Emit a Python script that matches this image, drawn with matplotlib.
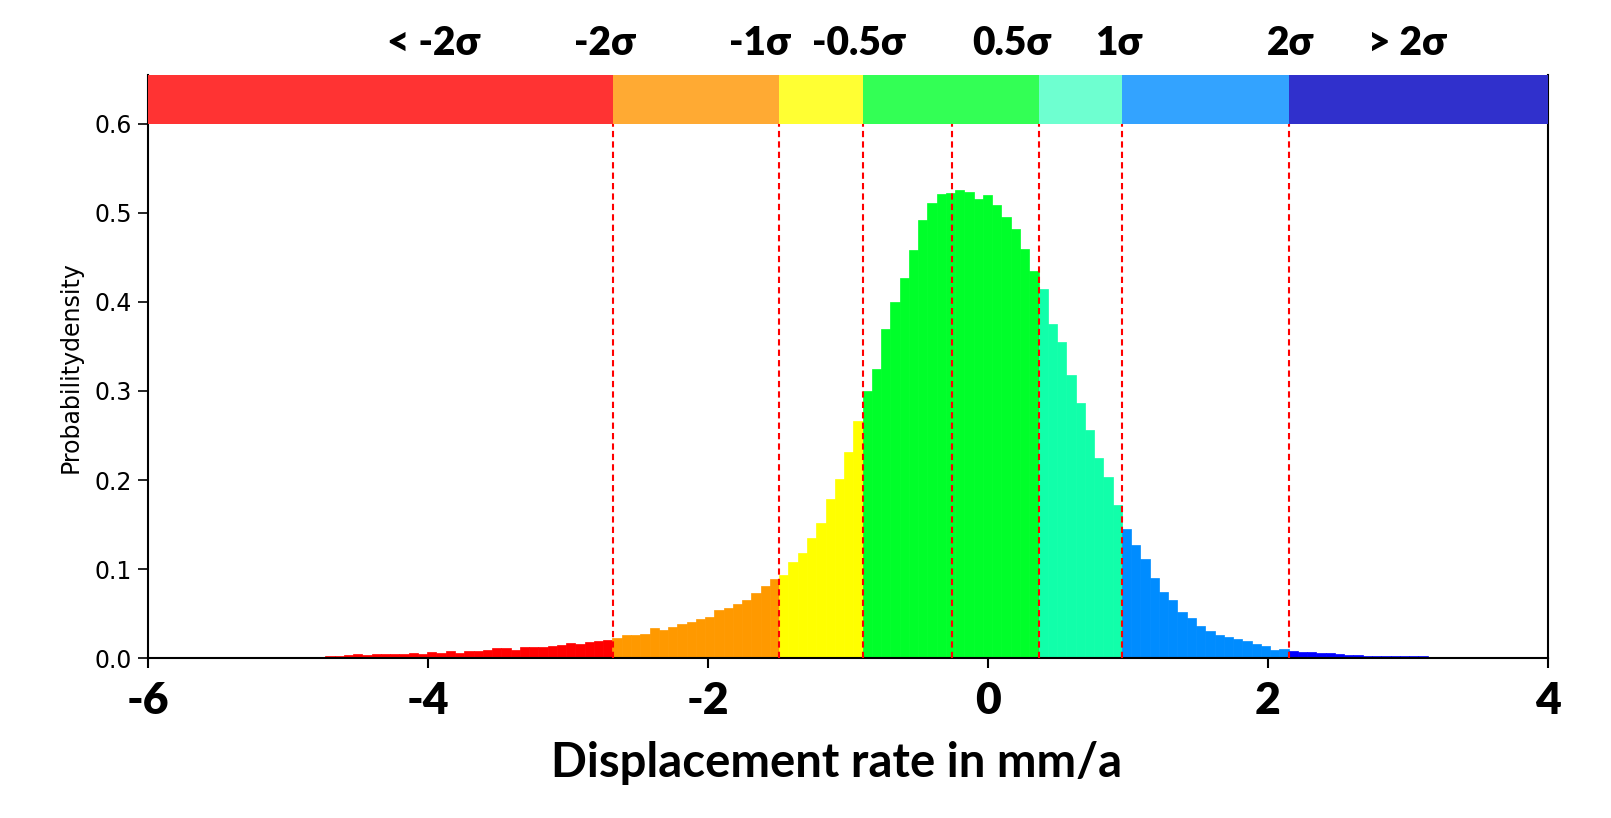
import numpy as np
import matplotlib
matplotlib.use('Agg')
import matplotlib.pyplot as plt

plt.rcParams['axes.unicode_minus'] = False

# histogram (density per bin), 140 equal bins
hist_lo = -5.993
hist_hi = 3.275
density = [
    0.0012, 0.0014, 0.0014, 0.0012, 0.0014, 0.0014, 0.0014, 0.0014, 0.0012, 0.0014,
    0.0012, 0.0014, 0.0020, 0.0020, 0.0014, 0.0020, 0.0020, 0.0017, 0.0020, 0.0024,
    0.0024, 0.0037, 0.0049, 0.0037, 0.0049, 0.0049, 0.0049, 0.0049, 0.0060, 0.0049,
    0.0071, 0.0060, 0.0086, 0.0060, 0.0086, 0.0086, 0.0097, 0.0116, 0.0116, 0.0097,
    0.0127, 0.0127, 0.0127, 0.0138, 0.0150, 0.0172, 0.0161, 0.0183, 0.0194, 0.0206,
    # orange
    0.0228, 0.0262, 0.0262, 0.0273, 0.0340, 0.0318, 0.0351, 0.0385, 0.0407, 0.0441,
    0.0463, 0.0542, 0.0564, 0.0609, 0.0654, 0.0732, 0.0811, 0.0890,
    # yellow
    0.0934, 0.1080, 0.1181, 0.1349, 0.1517, 0.1786, 0.2011, 0.2314, 0.2662,
    # green
    0.3000, 0.3245, 0.3700, 0.3996, 0.4265, 0.4580, 0.4916, 0.5107, 0.5210, 0.5219,
    0.5250, 0.5230, 0.5151, 0.5196, 0.5084, 0.4949, 0.4814, 0.4590, 0.4343,
    # aqua
    0.4141, 0.3749, 0.3547, 0.3177, 0.2863, 0.2560, 0.2246, 0.2033, 0.1719,
    # blue
    0.1450, 0.1271, 0.1114, 0.0901, 0.0744, 0.0654, 0.0519, 0.0452, 0.0362, 0.0306,
    0.0261, 0.0239, 0.0216, 0.0194, 0.0160, 0.0138, 0.0093, 0.0104,
    # dark blue
    0.0082, 0.0071, 0.0071, 0.0060, 0.0060, 0.0049, 0.0040, 0.0040, 0.0030, 0.0030,
    0.0030, 0.0022, 0.0022, 0.0022, 0.0022, 0.0020, 0.0020,
]

mean_val = -0.257
thresholds = [-2.676, -1.490, -0.893, 0.362, 0.958, 2.149]
hist_colors = ['#FF0000', '#FF9900', '#FFFF00', '#00FF2A', '#11FFAA', '#008CFF', '#0000FF']
band_colors = ['#FF3333', '#FFAA33', '#FFFF33', '#33FF55', '#6EFFD0', '#33A3FF', '#3030CC']

band_labels = ['< -2σ', '-2σ', '-1σ', '-0.5σ', '0.5σ', '1σ', '2σ', '> 2σ']
band_label_x = [-3.96, -2.74, -1.63, -0.925, 0.17, 0.935, 2.165, 3.0]

x_min, x_max = -6, 4
band_bottom, band_top = 0.6, 0.6545

fig = plt.figure(figsize=(16.11, 8.18), dpi=100)
ax = fig.add_axes([0.0921, 0.1952, 0.8685, 0.7131])

edges = np.linspace(hist_lo, hist_hi, len(density) + 1)
centers = (edges[:-1] + edges[1:]) / 2
idx = np.digitize(centers, thresholds)
cols = [hist_colors[i] for i in idx]
# thin edge in the same colour so the tiny tail bins still show up
ax.bar(edges[:-1], density, width=np.diff(edges), align='edge',
       color=cols, edgecolor=cols, linewidth=0.5, zorder=2)

# colour band on top
band_edges = [x_min] + thresholds + [x_max]
ax.bar(band_edges[:-1], band_top - band_bottom, width=np.diff(band_edges),
       bottom=band_bottom, align='edge', color=band_colors, linewidth=0, zorder=3)

for t in thresholds + [mean_val]:
    ax.plot([t, t], [0, band_bottom], color='red', linestyle='--',
            linewidth=1.5, dashes=(3, 2), zorder=4)

for lx, lab in zip(band_label_x, band_labels):
    ax.text(lx, 0.6766, lab, ha='center', va='baseline', fontsize=28,
            fontweight='heavy', family=['Lato', 'DejaVu Sans'], clip_on=False)

ax.set_xlim(x_min, x_max)
ax.set_ylim(0, band_top)
ax.set_xticks(np.arange(-6, 5, 2))
ax.set_yticks(np.arange(0, 0.61, 0.1))
ax.set_yticklabels([f'{v:.1f}' for v in np.arange(0, 0.61, 0.1)])

for lab in ax.get_xticklabels():
    lab.set_family(['Lato', 'DejaVu Sans'])
    lab.set_fontweight('heavy')
    lab.set_fontsize(32)
ax.tick_params(axis='x', length=7, width=1.5, pad=9)
ax.tick_params(axis='y', length=7, width=1.2, pad=5, labelsize=17)

ax.spines['top'].set_visible(False)
for s in ['left', 'right', 'bottom']:
    ax.spines[s].set_linewidth(1.5)

ax.set_ylabel('Probabilitydensity', fontsize=17, labelpad=8)
fig.text(0.5194, 0.0505, 'Displacement rate in mm/a', ha='center', va='baseline',
         fontsize=34, fontweight='bold', family=['Lato', 'DejaVu Sans'])

fig.savefig('out.png', dpi=100)
